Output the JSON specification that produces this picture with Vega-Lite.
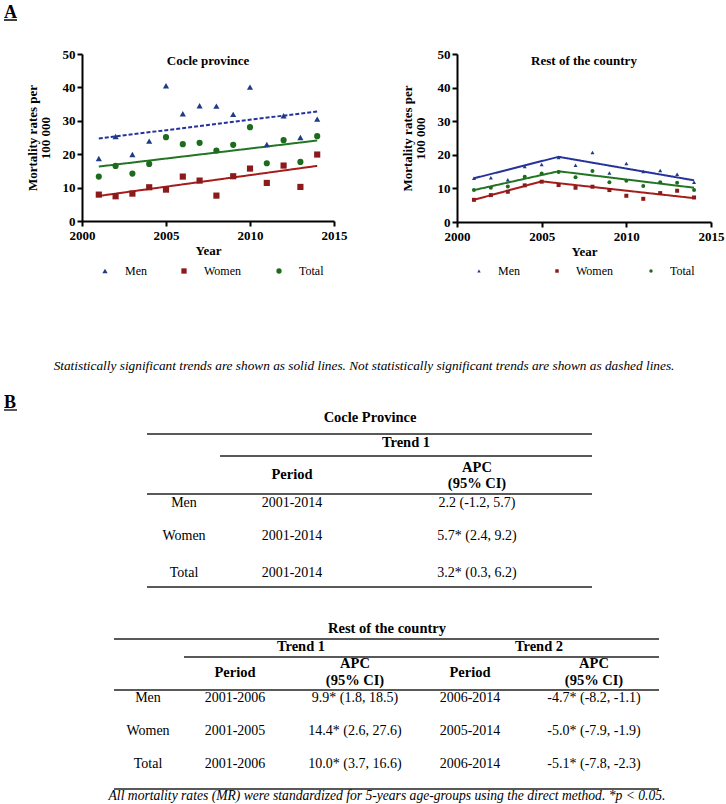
{
  "$schema": "https://vega.github.io/schema/vega-lite/v6.json",
  "padding": {"left": 3, "top": 0, "right": 0, "bottom": 0},
  "spacing": 10,
  "background": "white",
  "config": {
    "font": "Liberation Serif",
    "view": {"stroke": null},
    "axis": {
      "domainColor": "black", "domainWidth": 2, "tickColor": "black", "tickWidth": 2, "tickSize": 5,
      "labelColor": "black", "labelFont": "Liberation Serif", "labelFontSize": 13, "labelFontWeight": "bold", "labelPadding": 2,
      "titleColor": "black", "titleFont": "Liberation Serif", "titleFontSize": 13, "titleFontWeight": "bold", "grid": false
    },
    "title": {"font": "Liberation Serif", "fontSize": 13, "fontWeight": "bold", "color": "black"}
  },
  "datasets": {
    "cocle_pts": [
      {"year": 2001, "series": "Men", "rate": 18.7}, {"year": 2002, "series": "Men", "rate": 25.3}, {"year": 2003, "series": "Men", "rate": 19.9}, {"year": 2004, "series": "Men", "rate": 23.9}, {"year": 2005, "series": "Men", "rate": 40.5}, {"year": 2006, "series": "Men", "rate": 32.1}, {"year": 2007, "series": "Men", "rate": 34.5}, {"year": 2008, "series": "Men", "rate": 34.4}, {"year": 2009, "series": "Men", "rate": 31.9}, {"year": 2010, "series": "Men", "rate": 40.1}, {"year": 2011, "series": "Men", "rate": 22.9}, {"year": 2012, "series": "Men", "rate": 31.5}, {"year": 2013, "series": "Men", "rate": 25.0}, {"year": 2014, "series": "Men", "rate": 30.5},
      {"year": 2001, "series": "Women", "rate": 7.9}, {"year": 2002, "series": "Women", "rate": 7.4}, {"year": 2003, "series": "Women", "rate": 8.2}, {"year": 2004, "series": "Women", "rate": 10.1}, {"year": 2005, "series": "Women", "rate": 9.4}, {"year": 2006, "series": "Women", "rate": 13.3}, {"year": 2007, "series": "Women", "rate": 12.1}, {"year": 2008, "series": "Women", "rate": 7.6}, {"year": 2009, "series": "Women", "rate": 13.4}, {"year": 2010, "series": "Women", "rate": 15.7}, {"year": 2011, "series": "Women", "rate": 11.4}, {"year": 2012, "series": "Women", "rate": 16.6}, {"year": 2013, "series": "Women", "rate": 10.2}, {"year": 2014, "series": "Women", "rate": 19.9},
      {"year": 2001, "series": "Total", "rate": 13.3}, {"year": 2002, "series": "Total", "rate": 16.5}, {"year": 2003, "series": "Total", "rate": 14.2}, {"year": 2004, "series": "Total", "rate": 17.1}, {"year": 2005, "series": "Total", "rate": 25.1}, {"year": 2006, "series": "Total", "rate": 23.0}, {"year": 2007, "series": "Total", "rate": 23.4}, {"year": 2008, "series": "Total", "rate": 21.1}, {"year": 2009, "series": "Total", "rate": 22.8}, {"year": 2010, "series": "Total", "rate": 28.1}, {"year": 2011, "series": "Total", "rate": 17.3}, {"year": 2012, "series": "Total", "rate": 24.2}, {"year": 2013, "series": "Total", "rate": 17.7}, {"year": 2014, "series": "Total", "rate": 25.4}
    ],
    "cocle_trend": [
      {"year": 2001, "series": "Men", "rate": 24.7, "significant": "no"}, {"year": 2014, "series": "Men", "rate": 32.8, "significant": "no"},
      {"year": 2001, "series": "Women", "rate": 7.5, "significant": "yes"}, {"year": 2014, "series": "Women", "rate": 16.5, "significant": "yes"},
      {"year": 2001, "series": "Total", "rate": 16.3, "significant": "yes"}, {"year": 2014, "series": "Total", "rate": 24.1, "significant": "yes"}
    ],
    "rest_pts": [
      {"year": 2001, "series": "Men", "rate": 13.0}, {"year": 2002, "series": "Men", "rate": 13.2}, {"year": 2003, "series": "Men", "rate": 12.6}, {"year": 2004, "series": "Men", "rate": 16.5}, {"year": 2005, "series": "Men", "rate": 17.1}, {"year": 2006, "series": "Men", "rate": 19.2}, {"year": 2007, "series": "Men", "rate": 16.9}, {"year": 2008, "series": "Men", "rate": 20.7}, {"year": 2009, "series": "Men", "rate": 14.6}, {"year": 2010, "series": "Men", "rate": 17.4}, {"year": 2011, "series": "Men", "rate": 15.0}, {"year": 2012, "series": "Men", "rate": 15.3}, {"year": 2013, "series": "Men", "rate": 14.2}, {"year": 2014, "series": "Men", "rate": 11.8},
      {"year": 2001, "series": "Women", "rate": 6.6}, {"year": 2002, "series": "Women", "rate": 8.0}, {"year": 2003, "series": "Women", "rate": 9.0}, {"year": 2004, "series": "Women", "rate": 10.9}, {"year": 2005, "series": "Women", "rate": 12.0}, {"year": 2006, "series": "Women", "rate": 11.0}, {"year": 2007, "series": "Women", "rate": 10.2}, {"year": 2008, "series": "Women", "rate": 10.5}, {"year": 2009, "series": "Women", "rate": 9.5}, {"year": 2010, "series": "Women", "rate": 7.8}, {"year": 2011, "series": "Women", "rate": 6.9}, {"year": 2012, "series": "Women", "rate": 8.6}, {"year": 2013, "series": "Women", "rate": 9.3}, {"year": 2014, "series": "Women", "rate": 7.3},
      {"year": 2001, "series": "Total", "rate": 9.5}, {"year": 2002, "series": "Total", "rate": 10.2}, {"year": 2003, "series": "Total", "rate": 10.6}, {"year": 2004, "series": "Total", "rate": 13.5}, {"year": 2005, "series": "Total", "rate": 14.4}, {"year": 2006, "series": "Total", "rate": 14.9}, {"year": 2007, "series": "Total", "rate": 13.3}, {"year": 2008, "series": "Total", "rate": 15.2}, {"year": 2009, "series": "Total", "rate": 11.8}, {"year": 2010, "series": "Total", "rate": 12.3}, {"year": 2011, "series": "Total", "rate": 10.7}, {"year": 2012, "series": "Total", "rate": 11.8}, {"year": 2013, "series": "Total", "rate": 11.7}, {"year": 2014, "series": "Total", "rate": 9.5}
    ],
    "rest_trend": [
      {"year": 2001, "series": "Men", "rate": 13.0, "significant": "yes"}, {"year": 2006, "series": "Men", "rate": 19.4, "significant": "yes"}, {"year": 2014, "series": "Men", "rate": 12.4, "significant": "yes"},
      {"year": 2001, "series": "Women", "rate": 6.6, "significant": "yes"}, {"year": 2005, "series": "Women", "rate": 12.1, "significant": "yes"}, {"year": 2014, "series": "Women", "rate": 7.1, "significant": "yes"},
      {"year": 2001, "series": "Total", "rate": 9.5, "significant": "yes"}, {"year": 2006, "series": "Total", "rate": 15.1, "significant": "yes"}, {"year": 2014, "series": "Total", "rate": 10.2, "significant": "yes"}
    ],
    "header_text": [
      {"col": -1, "row": 1, "text": "A", "kind": "panel"}
    ],
    "header_rules": [
      {"col": -1, "col2": -0.5, "row": 1.2}
    ],
    "lower_text": [
      {"col": 0, "row": 0, "kind": "caption", "text": "Statistically significant trends are shown as solid lines. Not statistically significant trends are shown as dashed lines."},
      {"col": -1, "row": 1, "kind": "panel", "text": "B"},
      {"col": 12.5, "row": 10, "kind": "head", "text": "Cocle Province"},
      {"col": 12.6, "row": 11, "kind": "head", "text": "Trend 1"},
      {"col": 12, "row": 12.3, "kind": "head", "text": "Period"},
      {"col": 13, "row": 12, "kind": "head", "text": "APC"},
      {"col": 13, "row": 12.6, "kind": "head", "text": "(95% CI)"},
      {"col": 11, "row": 13, "kind": "cell", "text": "Men"},
      {"col": 12, "row": 13, "kind": "cell", "text": "2001-2014"},
      {"col": 13, "row": 13, "kind": "cell", "text": "2.2 (-1.2, 5.7)"},
      {"col": 11, "row": 14, "kind": "cell", "text": "Women"},
      {"col": 12, "row": 14, "kind": "cell", "text": "2001-2014"},
      {"col": 13, "row": 14, "kind": "cell", "text": "5.7* (2.4, 9.2)"},
      {"col": 11, "row": 15, "kind": "cell", "text": "Total"},
      {"col": 12, "row": 15, "kind": "cell", "text": "2001-2014"},
      {"col": 13, "row": 15, "kind": "cell", "text": "3.2* (0.3, 6.2)"},
      {"col": 23.5, "row": 20, "kind": "head", "text": "Rest of the country"},
      {"col": 22.5, "row": 21, "kind": "head", "text": "Trend 1"},
      {"col": 24.5, "row": 21, "kind": "head", "text": "Trend 2"},
      {"col": 22, "row": 22.3, "kind": "head", "text": "Period"},
      {"col": 23, "row": 22, "kind": "head", "text": "APC"},
      {"col": 23, "row": 22.6, "kind": "head", "text": "(95% CI)"},
      {"col": 24, "row": 22.3, "kind": "head", "text": "Period"},
      {"col": 25, "row": 22, "kind": "head", "text": "APC"},
      {"col": 25, "row": 22.6, "kind": "head", "text": "(95% CI)"},
      {"col": 21, "row": 23, "kind": "cell", "text": "Men"},
      {"col": 22, "row": 23, "kind": "cell", "text": "2001-2006"},
      {"col": 23, "row": 23, "kind": "cell", "text": "9.9*  (1.8, 18.5)"},
      {"col": 24, "row": 23, "kind": "cell", "text": "2006-2014"},
      {"col": 25, "row": 23, "kind": "cell", "text": "-4.7* (-8.2, -1.1)"},
      {"col": 21, "row": 24, "kind": "cell", "text": "Women"},
      {"col": 22, "row": 24, "kind": "cell", "text": "2001-2005"},
      {"col": 23, "row": 24, "kind": "cell", "text": "14.4* (2.6, 27.6)"},
      {"col": 24, "row": 24, "kind": "cell", "text": "2005-2014"},
      {"col": 25, "row": 24, "kind": "cell", "text": "-5.0* (-7.9, -1.9)"},
      {"col": 21, "row": 25, "kind": "cell", "text": "Total"},
      {"col": 22, "row": 25, "kind": "cell", "text": "2001-2006"},
      {"col": 23, "row": 25, "kind": "cell", "text": "10.0* (3.7, 16.6)"},
      {"col": 24, "row": 25, "kind": "cell", "text": "2006-2014"},
      {"col": 25, "row": 25, "kind": "cell", "text": "-5.1* (-7.8, -2.3)"},
      {"col": 23.5, "row": 26, "kind": "note", "text": "All mortality rates (MR) were standardized for 5-years age-groups using the direct method. *p < 0.05."}
    ],
    "lower_rules": [
      {"col": -1, "col2": -0.5, "row": 1.2},
      {"col": 10, "col2": 13.5, "row": 10.5},
      {"col": 11.5, "col2": 13.5, "row": 11.5},
      {"col": 10, "col2": 13.5, "row": 12.9},
      {"col": 10, "col2": 13.5, "row": 15.5},
      {"col": 20, "col2": 25.5, "row": 20.5},
      {"col": 21.5, "col2": 25.5, "row": 21.5},
      {"col": 20, "col2": 25.5, "row": 22.9},
      {"col": 20, "col2": 25.5, "row": 25.5}
    ]
  },
  "vconcat": [
    {
      "width": 645, "height": 38,
      "encoding": {
        "x": {"field": "col", "type": "quantitative", "axis": null, "scale": {"domain": [-1, -0.5], "range": [-78, -65], "zero": false, "nice": false}},
        "y": {"field": "row", "type": "quantitative", "axis": null, "scale": {"domain": [1, 1.2], "range": [18, 20], "zero": false, "nice": false}}
      },
      "layer": [
        {"data": {"name": "header_text"}, "mark": {"type": "text", "align": "left", "baseline": "alphabetic", "fontSize": 18, "fontWeight": "bold", "font": "Liberation Serif", "color": "black"}, "encoding": {"text": {"field": "text"}}},
        {"data": {"name": "header_rules"}, "mark": {"type": "rule", "color": "black", "strokeWidth": 1.5}, "encoding": {"x2": {"field": "col2"}}}
      ]
    },
    {
      "spacing": 54,
      "resolve": {"scale": {"color": "independent", "shape": "independent", "stroke": "independent", "strokeDash": "independent"}, "legend": {"color": "independent", "shape": "independent"}},
      "hconcat": [
        {
          "width": 252, "height": 167,
          "title": {"text": "Cocle province", "offset": -20},
          "encoding": {
            "x": {"field": "year", "type": "quantitative", "scale": {"domain": [2000, 2015], "nice": false, "zero": false}, "axis": {"values": [2000, 2005, 2010, 2015], "format": "d", "title": "Year", "labelFlush": false, "labelPadding": 3, "titlePadding": 2}},
            "y": {"field": "rate", "type": "quantitative", "scale": {"domain": [0, 50], "nice": false}, "axis": {"values": [0, 10, 20, 30, 40, 50], "title": ["Mortality rates per", "100 000"], "titlePadding": 10, "titleLineHeight": 13}}
          },
          "layer": [
            {
              "data": {"name": "cocle_trend"},
              "mark": {"type": "line", "strokeWidth": 2},
              "encoding": {
                "stroke": {"field": "series", "type": "nominal", "scale": {"range": ["#26329a", "#237523", "#a51c1c"]}, "legend": null},
                "strokeDash": {"field": "significant", "type": "nominal", "scale": {"domain": ["yes", "no"], "range": [[1, 0], [4, 2]]}, "legend": null}
              }
            },
            {
              "data": {"name": "cocle_pts"},
              "mark": {"type": "point", "filled": true, "opacity": 1, "size": 38},
              "encoding": {
                "color": {"field": "series", "type": "nominal", "scale": {"domain": ["Men", "Women", "Total"], "range": ["#1f3b85", "#8b1a1a", "#1d6b1d"]},
                  "legend": {"orient": "none", "legendX": 17, "legendY": 211, "direction": "horizontal", "title": null, "labelFontSize": 12, "labelFont": "Liberation Serif", "labelColor": "black", "symbolSize": 28, "labelOffset": 14, "columnPadding": 31}},
                "shape": {"field": "series", "type": "nominal", "scale": {"domain": ["Men", "Women", "Total"], "range": ["triangle-up", "square", "circle"]}}
              }
            }
          ]
        },
        {
          "width": 254, "height": 168,
          "title": {"text": "Rest of the country", "offset": -20},
          "encoding": {
            "x": {"field": "year", "type": "quantitative", "scale": {"domain": [2000, 2015], "nice": false, "zero": false}, "axis": {"values": [2000, 2005, 2010, 2015], "format": "d", "title": "Year", "labelFlush": false, "labelPadding": 3, "titlePadding": 2}},
            "y": {"field": "rate", "type": "quantitative", "scale": {"domain": [0, 50], "nice": false}, "axis": {"values": [0, 10, 20, 30, 40, 50], "title": ["Mortality rates per", "100 000"], "titlePadding": 10, "titleLineHeight": 13}}
          },
          "layer": [
            {
              "data": {"name": "rest_trend"},
              "mark": {"type": "line", "strokeWidth": 2},
              "encoding": {
                "stroke": {"field": "series", "type": "nominal", "scale": {"range": ["#26329a", "#237523", "#a51c1c"]}, "legend": null},
                "strokeDash": {"field": "significant", "type": "nominal", "scale": {"domain": ["yes", "no"], "range": [[1, 0], [4, 2]]}, "legend": null}
              }
            },
            {
              "data": {"name": "rest_pts"},
              "mark": {"type": "point", "filled": true, "opacity": 1, "size": 16},
              "encoding": {
                "color": {"field": "series", "type": "nominal", "scale": {"domain": ["Men", "Women", "Total"], "range": ["#1f3b85", "#8b1a1a", "#1d6b1d"]},
                  "legend": {"orient": "none", "legendX": 16, "legendY": 211, "direction": "horizontal", "title": null, "labelFontSize": 12, "labelFont": "Liberation Serif", "labelColor": "black", "symbolSize": 12, "labelOffset": 13, "columnPadding": 31}},
                "shape": {"field": "series", "type": "nominal", "scale": {"domain": ["Men", "Women", "Total"], "range": ["triangle-up", "square", "circle"]}}
              }
            }
          ]
        }
      ]
    },
    {
      "width": 645, "height": 518,
      "encoding": {
        "x": {"field": "col", "type": "quantitative", "axis": null, "scale": {"zero": false, "nice": false,
          "domain": [-1, -0.5, 0, 10, 11, 11.5, 12, 12.5, 12.6, 13, 13.5, 20, 21, 21.5, 22, 22.5, 23, 23.5, 24, 24.5, 25, 25.5],
          "range": [-78, -65, 282, 65, 102, 138, 210, 288, 324, 395, 510, 32, 66, 102, 153, 219, 273, 305, 388, 457, 512, 577]}},
        "y": {"field": "row", "type": "quantitative", "axis": null, "scale": {"zero": false, "nice": false,
          "domain": [0, 1, 1.2, 10, 10.5, 11, 11.5, 12, 12.3, 12.6, 12.9, 13, 14, 15, 15.5, 20, 20.5, 21, 21.5, 22, 22.3, 22.6, 22.9, 23, 24, 25, 25.5, 26],
          "range": [79, 121, 123, 131, 147, 156, 169, 181, 188, 197, 207, 216, 249, 286, 300, 342, 352, 360, 370, 377, 386, 394, 403, 411, 444, 477, 502, 509]}}
      },
      "layer": [
        {"data": {"name": "lower_rules"}, "mark": {"type": "rule", "color": "#222222", "strokeWidth": 1.5}, "encoding": {"x2": {"field": "col2"}}},
        {"data": {"name": "lower_text"}, "transform": [{"filter": "datum.kind == 'panel'"}], "mark": {"type": "text", "align": "left", "baseline": "alphabetic", "fontSize": 18, "fontWeight": "bold", "font": "Liberation Serif", "color": "black"}, "encoding": {"text": {"field": "text"}}},
        {"data": {"name": "lower_text"}, "transform": [{"filter": "datum.kind == 'head'"}], "mark": {"type": "text", "align": "center", "baseline": "middle", "fontSize": 14.5, "fontWeight": "bold", "font": "Liberation Serif", "color": "black"}, "encoding": {"text": {"field": "text"}}},
        {"data": {"name": "lower_text"}, "transform": [{"filter": "datum.kind == 'cell'"}], "mark": {"type": "text", "align": "center", "baseline": "middle", "fontSize": 14, "font": "Liberation Serif", "color": "black"}, "encoding": {"text": {"field": "text"}}},
        {"data": {"name": "lower_text"}, "transform": [{"filter": "datum.kind == 'caption'"}], "mark": {"type": "text", "align": "center", "baseline": "middle", "fontSize": 13.3, "fontStyle": "italic", "font": "Liberation Serif", "color": "black"}, "encoding": {"text": {"field": "text"}}},
        {"data": {"name": "lower_text"}, "transform": [{"filter": "datum.kind == 'note'"}], "mark": {"type": "text", "align": "center", "baseline": "middle", "fontSize": 13.6, "fontStyle": "italic", "font": "Liberation Serif", "color": "black"}, "encoding": {"text": {"field": "text"}}}
      ]
    }
  ]
}
